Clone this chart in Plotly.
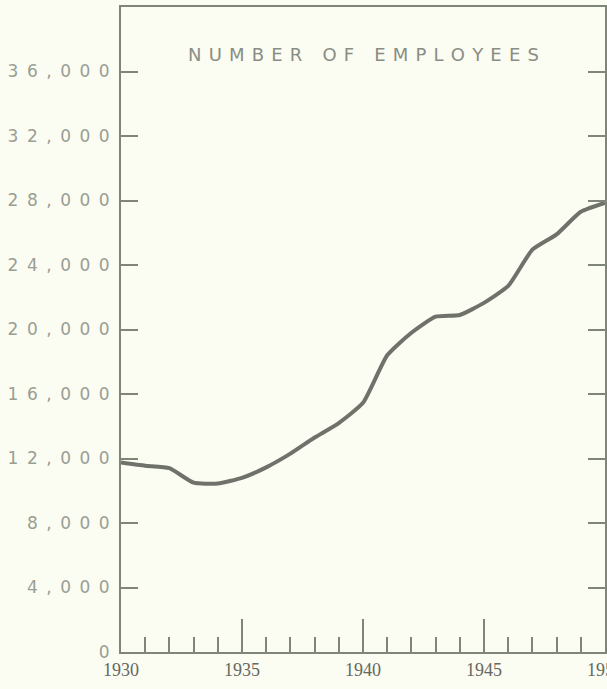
import plotly.graph_objects as go

years = list(range(1930, 1951))
employees = [11750, 11550, 11400, 10500, 10450, 10800, 11450, 12300, 13300, 14200,
             15450, 18400, 19800, 20800, 20900, 21650, 22700, 24950, 25900, 27300, 27850]

y_ticks = [0, 4000, 8000, 12000, 16000, 20000, 24000, 28000, 32000, 36000]
x_ticks = [1930, 1935, 1940, 1945, 1950]
title_text = "NUMBER OF EMPLOYEES"

def spaced(s, sep):
    return sep.join(s)

y_labels = [spaced(f"{v:,}", "\u2002") for v in y_ticks]
x_labels = [str(v) for v in x_ticks]

axis_col = "#80857a"
bg = "#fbfcf2"

fig = go.Figure()
fig.add_trace(go.Scatter(
    x=years, y=employees, mode="lines",
    line=dict(color="#6e726a", width=4, shape="spline", smoothing=0.5),
    hoverinfo="skip", showlegend=False,
))

fig.update_layout(
    width=607, height=689,
    margin=dict(l=121, r=2, t=7, b=37, autoexpand=False),
    paper_bgcolor=bg, plot_bgcolor=bg,
    xaxis=dict(
        range=[1930, 1950], tickvals=x_ticks, ticktext=x_labels,
        showgrid=False, zeroline=False, automargin=False,
        showline=True, linecolor=axis_col, linewidth=2, mirror=True,
        ticks="inside", ticklen=33, tickwidth=2, tickcolor=axis_col,
        ticklabeloverflow="allow",
        minor=dict(dtick=1, tick0=1930, ticks="inside", ticklen=15, tickwidth=2,
                   tickcolor=axis_col, showgrid=False),
        tickfont=dict(family="Liberation Serif", size=18, color="#65685f"),
    ),
    yaxis=dict(
        range=[0, 40000], tickvals=y_ticks, ticktext=y_labels,
        showgrid=False, zeroline=False, automargin=False,
        showline=True, linecolor=axis_col, linewidth=2, mirror="ticks",
        ticks="inside", ticklen=17, tickwidth=2, tickcolor=axis_col,
        ticklabelstandoff=6,
        tickfont=dict(family="DejaVu Sans", size=17, color="#9a9e93"),
    ),
    annotations=[dict(
        text=spaced(title_text, "\u2009\u2009"), xref="paper", yref="paper",
        x=0.5, y=0.9256, xanchor="center", yanchor="middle", showarrow=False,
        font=dict(family="DejaVu Sans", size=18, color="#8a8d84"),
    )],
)

fig.write_html(
    "out.html",
    config={"displayModeBar": False},
    post_script="document.body.style.margin='0';document.body.style.overflow='hidden';"
                "document.body.style.background='" + bg + "';",
)
